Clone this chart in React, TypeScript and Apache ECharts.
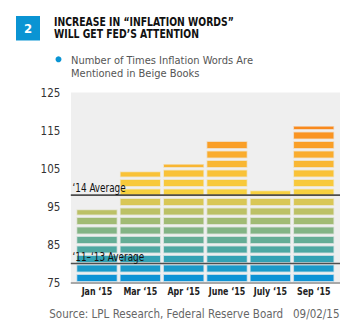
import React, { useEffect, useRef } from "react";
import * as echarts from "echarts";

const categories = ["Jan ‘15", "Mar ‘15", "Apr ‘15", "June ‘15", "July ‘15", "Sep ‘15"];
const mentions = [94, 104, 106, 112, 99, 116];
const averageValues = [98, 80];
const averageLabels = ["‘14 Average", "‘11–‘13 Average"];
const yTicks = [75, 85, 95, 105, 115, 125];
const yMin = 75;
const yMax = 125;

const titleText = "INCREASE IN “INFLATION WORDS”\nWILL GET FED’S ATTENTION";
const seriesName = "Number of Times Inflation Words Are\nMentioned in Beige Books";
const sourceText = "Source: LPL Research, Federal Reserve Board   09/02/15";

// stripe design (bottom blue -> top orange)
const STRIPE_STEP = 2.5;
const STRIPE_OFFSET = 0.4;
const STRIPE_HEIGHT = 1.6;
const stripeColors = [
  "#0e93d5", "#1b9ac9", "#33a2b4", "#4ea8a2", "#65ad96", "#83b485",
  "#a1bb74", "#bcc166", "#d9c756", "#f7d03f", "#f8c93b", "#f9c237",
  "#f9b733", "#faac2d", "#fa9f27", "#fa9422", "#f98a1e",
];

const COND = "'DejaVu Sans Condensed', 'Liberation Sans Narrow', sans-serif";

function rgba(hex: string, a: number) {
  const n = parseInt(hex.slice(1), 16);
  return `rgba(${(n >> 16) & 255},${(n >> 8) & 255},${n & 255},${a})`;
}

export default function App() {
  const ref = useRef<HTMLDivElement>(null);
  useEffect(() => {
    document.body.style.margin = "0";
    const chart = echarts.init(ref.current!, undefined, { renderer: "svg" });
    const option: any = {
      animation: false,
      grid: { left: 75.3, right: 22.6, top: 92.5, bottom: 53.5 },
      xAxis: {
        type: "category",
        data: categories,
        axisLine: { show: false },
        axisTick: { show: false },
        axisLabel: { show: false },
      },
      yAxis: {
        type: "value",
        min: yMin,
        max: yMax,
        splitLine: { show: false },
        axisLine: { show: false },
        axisTick: { show: false },
        axisLabel: { customValues: yTicks, color: "#333", fontSize: 11.5, fontFamily: COND, margin: 15 },
      },
      graphic: [
        { type: "rect", z: -10, shape: { x: 71, y: 92.5, width: 269, height: 190 }, style: { fill: "#efefef" } },
        { type: "rect", shape: { x: 16, y: 16, width: 24, height: 24.5 }, style: { fill: "#0a94d3" } },
        { type: "text", x: 28, y: 28.5, style: { text: "2", fill: "#fff", font: `bold 13px ${COND}`, align: "center", verticalAlign: "middle" } },
        {
          type: "text", x: 54, y: 16.3, scaleX: 0.86,
          style: { text: titleText, fill: "#111", font: `bold 12px ${COND}`, lineHeight: 12, verticalAlign: "top" },
        },
        { type: "circle", shape: { cx: 58.5, cy: 59.3, r: 3 }, style: { fill: "#0a94d3" } },
        { type: "text", x: 71, y: 54.4, style: { text: seriesName, fill: "#555", font: `11px ${COND}`, lineHeight: 12.6, verticalAlign: "top" } },
        { type: "text", x: 49.3, y: 313.5, style: { text: sourceText, fill: "#666", font: `11.5px ${COND}`, verticalAlign: "middle" } },
      ],
      series: [
        {
          type: "custom",
          name: seriesName,
          data: categories.map((c, i) => [i, mentions[i]]),
          encode: { x: 0, y: 1 },
          z: 2,
          clip: false,
          renderItem: (params: any, api: any) => {
            const idx = api.value(0);
            const v = api.value(1);
            const base = api.coord([idx, yMin]);
            const bandW = api.size([1, 0])[0];
            const w = bandW * 0.907;
            const children: any[] = [];
            for (let k = 0; k < stripeColors.length; k++) {
              const lo = yMin + k * STRIPE_STEP + STRIPE_OFFSET;
              if (lo >= v) break;
              const hi = Math.min(lo + STRIPE_HEIGHT, v);
              const pTop = api.coord([idx, hi]);
              const pBot = api.coord([idx, lo]);
              children.push({
                type: "rect",
                shape: { x: base[0] - w / 2, y: pTop[1], width: w, height: pBot[1] - pTop[1] },
                style: { fill: stripeColors[k], stroke: rgba(stripeColors[k], 0.3), lineWidth: 1.5 },
              });
            }
            children.push({
              type: "text",
              x: base[0],
              y: base[1] + 8.7,
              scaleX: 0.8,
              style: {
                text: categories[params.dataIndex],
                fill: "#222",
                font: `bold 11px ${COND}`,
                align: "center",
                verticalAlign: "middle",
              },
            });
            return { type: "group", children };
          },
        },
        {
          type: "custom",
          name: "baseline",
          data: [[0, yMin]],
          encode: { x: 0, y: 1 },
          z: 3,
          silent: true,
          clip: false,
          renderItem: (params: any, api: any) => {
            const cs = params.coordSys;
            const y = api.coord([0, api.value(1)])[1] + 0.5;
            return {
              type: "line",
              shape: { x1: cs.x - 4.5, y1: y, x2: cs.x + cs.width + 4.6, y2: y },
              style: { stroke: "#a8a8a8", lineWidth: 2 },
            };
          },
        },
        {
          type: "custom",
          name: "averages",
          data: averageValues.map((v) => [0, v]),
          encode: { x: 0, y: 1 },
          z: 4,
          silent: true,
          clip: false,
          renderItem: (params: any, api: any) => {
            const cs = params.coordSys;
            const y = api.coord([0, api.value(1)])[1];
            return {
              type: "group",
              children: [
                {
                  type: "line",
                  shape: { x1: cs.x - 4.5, y1: y, x2: cs.x + cs.width + 4.6, y2: y },
                  style: { stroke: "#4e4e4e", lineWidth: 1.6 },
                },
                {
                  type: "text",
                  x: cs.x - 2.8,
                  y: y - 0.5,
                  scaleX: 0.82,
                  style: {
                    text: averageLabels[params.dataIndex],
                    fill: "#111",
                    font: `12px ${COND}`,
                    verticalAlign: "bottom",
                  },
                },
              ],
            };
          },
        },
      ],
    };
    chart.setOption(option);
    return () => chart.dispose();
  }, []);
  return <div ref={ref} style={{ width: 358, height: 336 }} />;
}
